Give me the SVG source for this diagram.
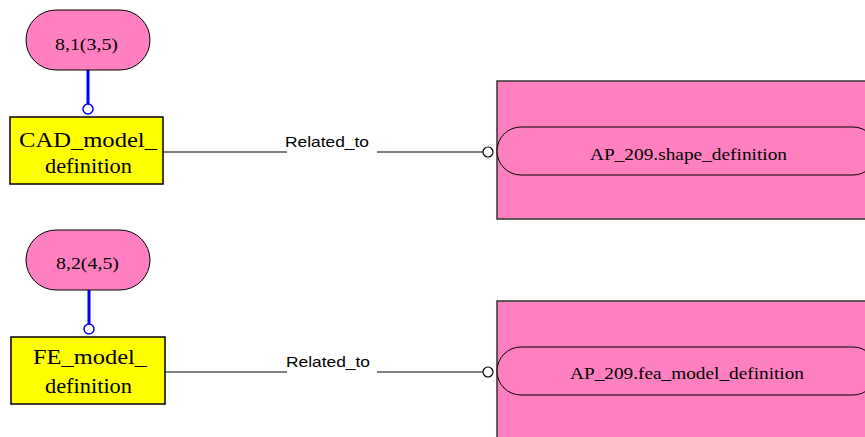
<svg xmlns="http://www.w3.org/2000/svg" width="865" height="437" viewBox="0 0 865 437">
<style>
.oval{fill:#FF80C0;stroke:#000;stroke-width:1}
.ent{fill:#FFFF00;stroke:#000;stroke-width:1.5}
.box{fill:#FF80C0;stroke:#333;stroke-width:1.5}
.inner{fill:#FF80C0;stroke:#000;stroke-width:1}
.serif{font-family:"Liberation Serif","Times New Roman",serif;fill:#000}
.lbl{font-family:"Liberation Sans",Arial,sans-serif;font-size:15px;fill:#000}
.ln{stroke:#000;stroke-width:1;fill:none}
.blue{stroke:#0000FF;stroke-width:3;fill:none}
.bc{fill:#fff;stroke:#0000FF;stroke-width:1.5}
.kc{fill:#fff;stroke:#000;stroke-width:1.2}
</style>
<rect width="865" height="437" fill="#fff"/>
<g id="connectors">
<line class="blue" x1="88" y1="70" x2="88" y2="104"/>
<circle class="bc" cx="88" cy="109" r="5"/>
<line class="blue" x1="89" y1="290" x2="89" y2="324"/>
<circle class="bc" cx="89" cy="329" r="5"/>
<polyline class="ln" points="163,152 287,152"/>
<line class="ln" x1="377" y1="152" x2="483" y2="152"/>
<circle class="kc" cx="488" cy="152" r="5"/>
<text class="lbl" x="285" y="147" textLength="84" lengthAdjust="spacingAndGlyphs">Related_to</text>
<polyline class="ln" points="165,372 287,372"/>
<line class="ln" x1="377" y1="372" x2="483" y2="372"/>
<circle class="kc" cx="488" cy="372" r="5"/>
<text class="lbl" x="286" y="367" textLength="84" lengthAdjust="spacingAndGlyphs">Related_to</text>
</g>
<g id="n_8_1">
<rect class="oval" x="26" y="10" width="124" height="60" rx="30" ry="30"/>
<text class="serif" x="55" y="50" font-size="17" textLength="63" lengthAdjust="spacingAndGlyphs">8,1(3,5)</text>
</g>
<g id="n_cad">
<rect class="ent" x="10" y="117" width="153" height="67"/>
<text class="serif" x="19" y="147" font-size="22" textLength="138" lengthAdjust="spacingAndGlyphs">CAD_model_</text>
<text class="serif" x="45" y="173" font-size="22" textLength="87" lengthAdjust="spacingAndGlyphs">definition</text>
</g>
<g id="n_shape">
<rect class="box" x="497" y="81" width="375" height="138"/>
<rect class="inner" x="497" y="127" width="380" height="48" rx="24" ry="24"/>
<text class="serif" x="590" y="160" font-size="16" textLength="197" lengthAdjust="spacingAndGlyphs">AP_209.shape_definition</text>
</g>
<g id="n_8_2">
<rect class="oval" x="26" y="230" width="124" height="60" rx="30" ry="30"/>
<text class="serif" x="56" y="269" font-size="17" textLength="63" lengthAdjust="spacingAndGlyphs">8,2(4,5)</text>
</g>
<g id="n_fe">
<rect class="ent" x="11" y="337" width="154" height="67"/>
<text class="serif" x="33" y="364" font-size="22" textLength="114" lengthAdjust="spacingAndGlyphs">FE_model_</text>
<text class="serif" x="45" y="393" font-size="22" textLength="87" lengthAdjust="spacingAndGlyphs">definition</text>
</g>
<g id="n_fea">
<rect class="box" x="497" y="301" width="375" height="145"/>
<rect class="inner" x="497" y="347" width="380" height="48" rx="24" ry="24"/>
<text class="serif" x="570" y="379" font-size="16" textLength="234" lengthAdjust="spacingAndGlyphs">AP_209.fea_model_definition</text>
</g>
</svg>
